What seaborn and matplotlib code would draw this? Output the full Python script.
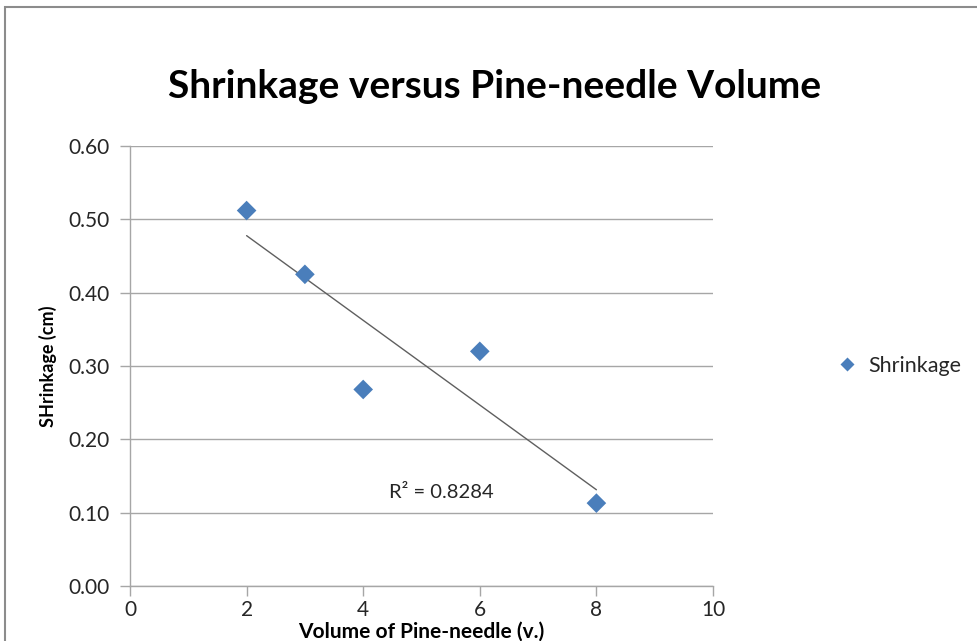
import numpy as np
import pandas as pd
import matplotlib
matplotlib.use("Agg")
import matplotlib.pyplot as plt
from matplotlib.patches import Rectangle
import seaborn as sns

# Measured shrinkage for each pine-needle volume
volume = [2, 3, 4, 6, 8]
shrinkage = [0.512, 0.425, 0.268, 0.320, 0.113]
series_name = "Shrinkage"
r2_label = "R² = 0.8284"

x_ticks = [0, 2, 4, 6, 8, 10]
y_ticks = [0.0, 0.1, 0.2, 0.3, 0.4, 0.5, 0.6]

df = pd.DataFrame({"volume": volume, "shrinkage": shrinkage, "series": series_name})

sns.set_theme(style="white")
plt.rcParams["font.family"] = ["Lato", "DejaVu Sans"]

fig = plt.figure(figsize=(9.78, 6.41), dpi=100)
ax = fig.add_axes([130 / 978, 1 - 586 / 641, (713 - 130) / 978, (586 - 146) / 641])

grid_c = "#a6a6a6"
blue = "#4a7ebb"

# Horizontal gridlines
for yv in y_ticks:
    ax.axhline(yv, color=grid_c, lw=1.0, zorder=0)

# Linear trendline over the measured range
slope, intercept = np.polyfit(volume, shrinkage, 1)
xs = np.array([min(volume), max(volume)])
sns.lineplot(x=xs, y=slope * xs + intercept, ax=ax, color="#5f5f5f", lw=1.0, zorder=2)

sns.scatterplot(data=df, x="volume", y="shrinkage", hue="series", palette=[blue],
                marker="D", s=100, edgecolor="none", ax=ax, zorder=3)

ax.text(4.45, 0.127, r2_label, fontsize=14.5, color="#262626", va="center", ha="left")

ax.set_xlim(0, 10)
ax.set_ylim(0, 0.6)
ax.set_xticks(x_ticks)
ax.set_yticks(y_ticks)
ax.set_yticklabels([f"{v:.2f}" for v in y_ticks])
ax.tick_params(axis="both", which="major", direction="out", length=7, width=1.0,
               color=grid_c, labelsize=15, labelcolor="#262626", left=True, bottom=True)
ax.tick_params(axis="y", pad=8)
ax.tick_params(axis="x", pad=3)
for side in ["top", "right"]:
    ax.spines[side].set_visible(False)
for side in ["left", "bottom"]:
    ax.spines[side].set_color(grid_c)
    ax.spines[side].set_linewidth(1.0)

ax.set_xlabel("Volume of Pine-needle (v.)", fontsize=15, fontweight="bold", color="black", labelpad=1)
ax.set_ylabel("SHrinkage (cm)", fontsize=13, fontweight="bold", color="black", labelpad=8)

leg = ax.legend(loc="center left", bbox_to_anchor=(1.16, 0.5), frameon=False, fontsize=15.5,
                handletextpad=0.0, markerscale=0.7)
for t in leg.get_texts():
    t.set_color("#262626")

fig.text(0.506, 1 - 86 / 641, "Shrinkage versus Pine-needle Volume", fontsize=28,
         fontweight="bold", ha="center", va="center", color="black")

# Chart-area frame
fig.patches.append(Rectangle((5 / 978, -0.05), 1.2, 1 - 7 / 641 + 0.05, transform=fig.transFigure,
                             fill=False, edgecolor="#8c8c8c", lw=1.5, zorder=0))

fig.savefig("out.png", dpi=100)
